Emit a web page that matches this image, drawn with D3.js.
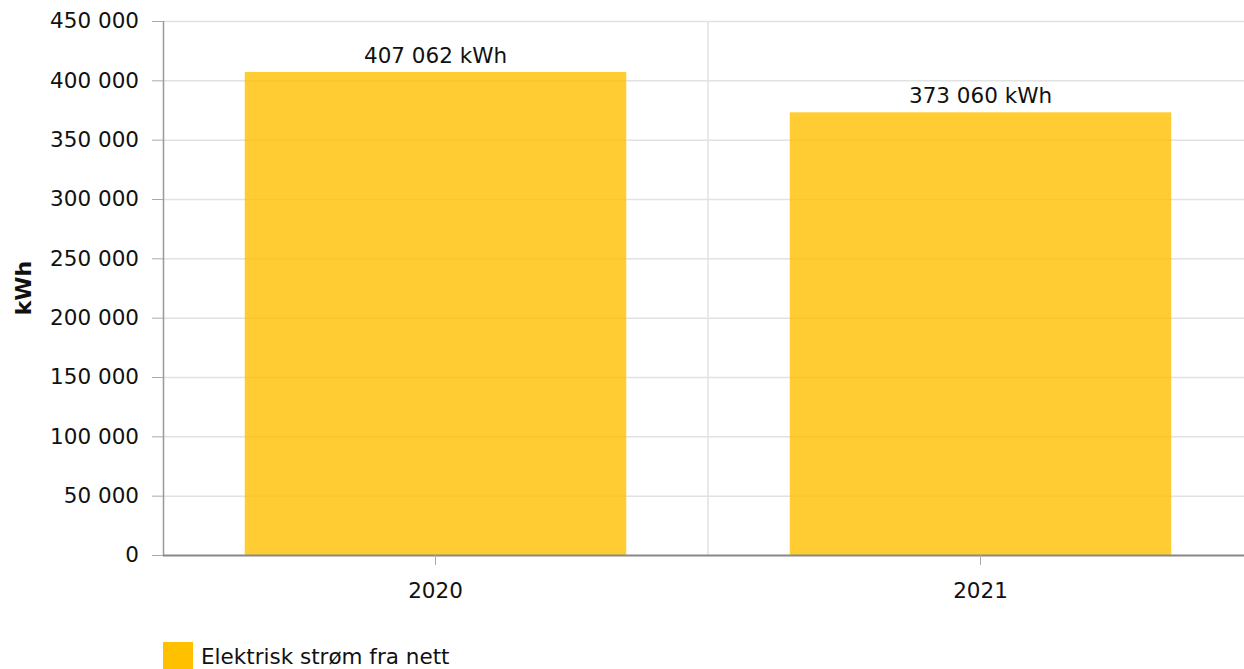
<!DOCTYPE html>
<html><head><meta charset="utf-8">
<script src="https://cdn.jsdelivr.net/npm/d3@7"></script>
<style>body{margin:0;background:#fff;} text{font-family:"DejaVu Sans",Verdana,sans-serif;fill:#111;}</style>
</head><body>
<svg id="c" width="1244" height="669"></svg>
<script>
const categories = ["2020", "2021"];
const values = [407062, 373060];
const yTicks = [0, 50000, 100000, 150000, 200000, 250000, 300000, 350000, 400000, 450000];
const seriesName = "Elektrisk strøm fra nett";
const unit = "kWh";

(function(){
const FS = 21.5;
const fmt = v => d3.format(",")(v).replace(/,/g, " ");
const svg = d3.select("#c");
const pL = 163, pR = 1253, pT = 21, pB = 555;
const xb = d3.scaleBand().domain(categories).range([pL, pR]);
const y = d3.scaleLinear().domain([0, 450000]).range([pB, pT]);

// grid
svg.append("g").selectAll("line").data(yTicks.slice(1)).join("line")
  .attr("x1", pL).attr("x2", 1244).attr("y1", d => y(d)+0.5).attr("y2", d => y(d)+0.5)
  .attr("stroke", "#e2e2e2").attr("stroke-width", 1.5);
svg.append("line").attr("x1", xb("2021")).attr("x2", xb("2021")).attr("y1", pT).attr("y2", pB)
  .attr("stroke", "#e2e2e2").attr("stroke-width", 1.5);

// bars
svg.append("g").selectAll("rect").data(values).join("rect")
  .attr("x", (d,i) => xb(categories[i]) + xb.bandwidth()*0.15)
  .attr("width", xb.bandwidth()*0.7)
  .attr("y", d => y(d)).attr("height", d => pB - y(d))
  .attr("fill", "#ffc000").attr("fill-opacity", 0.8);

// value labels
svg.append("g").selectAll("text").data(values).join("text")
  .attr("x", (d,i) => xb(categories[i]) + xb.bandwidth()/2)
  .attr("y", d => y(d) - 9).attr("text-anchor", "middle").attr("font-size", FS)
  .text(d => fmt(d) + " " + unit);

// y axis
const ya = svg.append("g").attr("transform", `translate(${pL},0)`)
  .call(d3.axisLeft(y).tickValues(yTicks).tickFormat(fmt).tickSize(11).tickPadding(13));
ya.select(".domain").attr("stroke", "#999").attr("stroke-width", 1.5).attr("d", `M0.5,${pT}V${pB}`);
ya.selectAll(".tick line").attr("stroke", "#aaa");
ya.selectAll(".tick text").attr("font-size", FS).attr("font-family", "DejaVu Sans").attr("fill", "#111");

// x axis
const xa = svg.append("g").attr("transform", `translate(0,${pB})`)
  .call(d3.axisBottom(xb).tickSize(10).tickPadding(18));
xa.select(".domain").attr("stroke", "#888").attr("stroke-width", 2).attr("d", `M${pL},0.5H1244`);
xa.selectAll(".tick line").attr("stroke", "#aaa");
xa.selectAll(".tick text").attr("font-size", FS).attr("font-family", "DejaVu Sans").attr("fill", "#111");

// y title
svg.append("text").attr("transform", "translate(31,288) rotate(-90)").attr("text-anchor", "middle")
  .attr("font-size", 22).attr("font-weight", "bold").text(unit);

// legend
svg.append("rect").attr("x", 163).attr("y", 642).attr("width", 30).attr("height", 30).attr("fill", "#ffc000");
svg.append("text").attr("x", 201).attr("y", 664).attr("font-size", FS).text(seriesName);
})();
</script>
</body></html>
